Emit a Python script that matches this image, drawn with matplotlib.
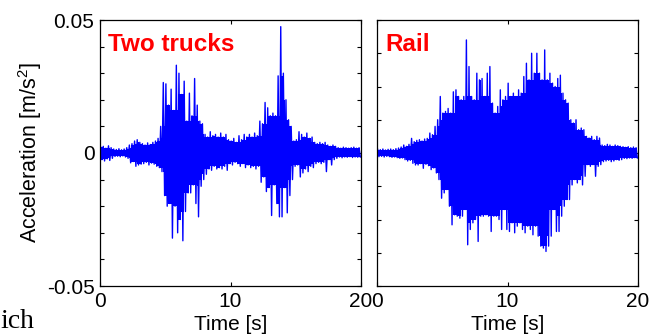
import matplotlib
matplotlib.use("Agg")
import matplotlib.pyplot as plt
import numpy as np

# peak values per 0.2 s bin, in 1e-3 m/s^2
bin_width = 0.2

trucks_hi = [2.2, 2.5, 1.8, 2.7, 2.0, 1.5, 1.3, 1.6, 1.2, 1.5,
             2.0, 3.0, 3.5, 4.5, 5.0, 4.0, 3.5, 3.0, 3.8, 3.2,
             4.0, 4.5, 5.5, 10, 26.5, 26, 18, 24, 16, 33,
             30, 22, 27, 12, 22.5, 14, 28, 18, 12, 11,
             7, 6, 8, 6.5, 7, 6, 7.5, 6, 7, 5,
             4.5, 5.5, 4, 6.5, 5, 7, 6, 7, 6, 7.5,
             6.5, 12, 11, 19, 17, 14, 15, 14, 29, 47.5,
             30, 20, 12.5, 10, 4.5, 5, 8, 7, 6, 7.5,
             5.5, 6, 4, 3.5, 4, 3.5, 4, 3, 2.5, 3,
             2.5, 2, 1.8, 2.2, 2, 1.8, 2, 2.2, 1.8, 2]
trucks_lo = [-2.5, -3.0, -2.2, -2.8, -2.0, -1.3, -1.2, -1.4, -1.1, -1.5,
             -2.0, -3.7, -3.2, -5.0, -4.5, -4.2, -4.0, -3.5, -4.5, -3.8,
             -4.2, -5.0, -5.5, -7, -16, -20, -19, -32, -20, -30,
             -25, -33, -22, -15, -15, -12, -19, -24, -12.5, -10,
             -8, -6, -6.5, -5, -6, -5.5, -6, -5, -6.5, -4,
             -4.5, -3.5, -4, -5, -4, -5.5, -4.5, -5.5, -5, -6,
             -5, -11, -9, -14.5, -13, -23.5, -12, -19, -24, -24,
             -13, -22.5, -16, -10, -5, -4.5, -9, -7.5, -6, -7,
             -5, -5.5, -4, -3.5, -4, -3.5, -7, -2.5, -4.5, -2.5,
             -2, -1.5, -1.8, -1.5, -1.6, -1.4, -1.7, -1.5, -1.6, -1.5]

rail_hi = [1.1, 1.0, 1.2, 0.9, 1.1, 1.2, 1.0, 1.3, 1.5, 1.8,
           2.4, 2.0, 2.6, 4.4, 3.4, 3.8, 4.0, 3.6, 4.2, 4.4,
           6, 5.5, 8, 10, 17, 12, 12.5, 13.4, 12, 18.4,
           19, 17, 16, 17, 34, 26, 17, 16, 24, 22,
           22.4, 17, 24, 26, 15, 12, 14, 19, 16, 17,
           21, 17, 18, 17, 19, 18, 23, 27, 22, 30,
           24, 30, 24, 22, 31, 22, 24, 21, 20, 22.4,
           23.4, 18, 16, 15, 10, 9, 10, 7, 7.5, 7,
           5, 4.5, 5, 4, 5, 4.5, 2.4, 2.2, 2.6, 2.4,
           2.0, 2.4, 2.2, 2.0, 1.9, 1.7, 1.9, 1.6, 1.8, 1.6]
rail_lo = [-1.1, -1.0, -1.2, -1.0, -1.1, -1.3, -1.2, -1.4, -1.6, -1.5,
           -2.0, -2.4, -2.2, -3.1, -3.6, -3.6, -3.2, -4.6, -3.4, -3.8,
           -5, -4.5, -6, -8, -13.6, -12, -11, -16, -21.6, -18.6,
           -19, -19.6, -19, -17, -27.6, -23, -21, -20, -26.6, -19,
           -19, -18.6, -19, -23.6, -19, -19, -20, -23, -17, -23,
           -23.6, -21, -24, -22, -21, -23, -24, -22, -23, -24.6,
           -22, -25, -28, -28.6, -29.6, -28, -25, -17, -23.6, -23.6,
           -19, -16, -14, -14, -9.6, -8, -9, -8, -9.6, -7,
           -3.5, -4, -3.5, -7, -4, -3.5, -2.6, -2.4, -2.2, -2.6,
           -2.4, -2.0, -2.2, -2.0, -1.6, -1.7, -1.5, -1.6, -1.4, -1.5]

panels = [("Two trucks", trucks_hi, trucks_lo, 0.05),
          ("Rail", rail_hi, rail_lo, 0.04)]


def zigzag(hi, lo):
    idx = np.arange(len(hi))
    t = np.empty(2 * len(hi))
    y = np.empty(2 * len(hi))
    t[0::2] = (idx + 0.25) * bin_width
    t[1::2] = (idx + 0.75) * bin_width
    y[0::2] = hi
    y[1::2] = lo
    return t, y


def core(v, fn):
    # the solid part of the trace: what neighbouring bins all reach
    p = np.pad(v, 1, mode='edge')
    return fn(np.vstack([p[:-2], p[1:-1], p[2:]]), axis=0)


plt.rcParams['font.family'] = ['Liberation Sans', 'DejaVu Sans']
plt.rcParams['mathtext.default'] = 'regular'

fig = plt.figure(figsize=(6.57, 3.36), dpi=100)
lefts = [100 / 657, 377 / 657]
for k, (name, hi, lo, lim) in enumerate(panels):
    ax = fig.add_axes([lefts[k], 1 - 286 / 336, 261 / 657, 266 / 336])
    hi = np.array(hi) * 1e-3
    lo = np.array(lo) * 1e-3
    tc = (np.arange(len(hi)) + 0.5) * bin_width
    ax.fill_between(tc, core(lo, np.max), core(hi, np.min), step='mid',
                    color='#0000ff', lw=0)
    t, y = zigzag(hi, lo)
    ax.plot(t, y, color='#0000ff', lw=1.0)
    ax.set_xlim(0, 20)
    ax.set_ylim(-lim, lim)
    ax.set_xticks([0, 10, 20])
    ax.set_xticklabels(['0', '10', '20'])
    yt = np.arange(-lim, lim + 1e-9, 0.01)
    ax.set_yticks(yt)
    if k == 0:
        labels = ['-0.05' if abs(v + 0.05) < 1e-9 else
                  '0.05' if abs(v - 0.05) < 1e-9 else
                  '0' if abs(v) < 1e-9 else '' for v in yt]
        ax.set_yticklabels(labels)
        ax.set_ylabel('Acceleration [m/s$^2$]', fontsize=15.5, labelpad=2)
    else:
        ax.set_yticklabels([])
    ax.tick_params(direction='in', length=3, width=0.8, labelsize=15,
                   top=True, right=True, pad=4)
    for s in ax.spines.values():
        s.set_linewidth(0.9)
    ax.set_xlabel('Time [s]', fontsize=15, labelpad=3)
    ax.text(8 / 261, 1 - 31 / 266, name, transform=ax.transAxes,
            color='#ff0000', fontsize=17.5, fontweight='bold',
            ha='left', va='baseline')

fig.text(0.0, 0.025, 'ich', family=['Liberation Serif', 'DejaVu Serif'],
         fontsize=20, ha='left', va='baseline')

fig.savefig('out.png', dpi=100)
